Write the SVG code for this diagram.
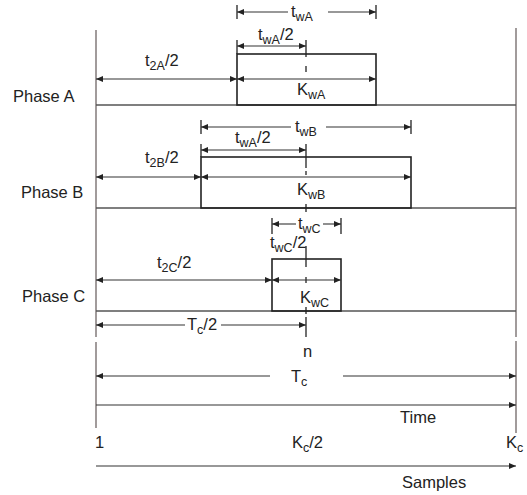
<svg xmlns="http://www.w3.org/2000/svg" width="527" height="495" viewBox="0 0 527 495">
<defs>
<marker id="ah" markerUnits="userSpaceOnUse" markerWidth="8" markerHeight="6" refX="7" refY="3" orient="auto-start-reverse"><path d="M0,0 L7,3 L0,6 z" fill="#222"/></marker>
<style>
text{font-family:"Liberation Sans",Arial,sans-serif;font-size:16.5px;fill:#222}
.sub{font-size:12.5px}
.ax{stroke:#8a8282;stroke-width:1.6;fill:none}
.base{stroke:#555;stroke-width:1.4;fill:none}
.dim{stroke:#333;stroke-width:1.1;fill:none}
.a2{marker-start:url(#ah);marker-end:url(#ah)}
.ae{marker-end:url(#ah)}
.as{marker-start:url(#ah)}
.tk{stroke:#222;stroke-width:1.3}
.box{fill:none;stroke:#222;stroke-width:1.6}
</style>
</defs>
<rect width="527" height="495" fill="#fff"/>
<g id="axes">
<line class="ax" x1="96" y1="30" x2="96" y2="337"/>
<line class="ax" x1="96" y1="342" x2="96" y2="428"/>
<line class="ax" x1="516" y1="28" x2="516" y2="337"/>
<line class="ax" x1="516" y1="341" x2="516" y2="433"/>
<line class="base" x1="96" y1="105" x2="516" y2="105"/>
<line class="base" x1="96" y1="208" x2="516" y2="208"/>
<line class="base" x1="96" y1="311" x2="516" y2="311"/>
</g>
<g id="phaseA">
<rect class="box" x="237" y="54" width="139" height="51"/>
<text x="13" y="102">Phase A</text>
<text x="291" y="17">t<tspan class="sub" dy="4">wA</tspan></text>
<text x="258" y="40">t<tspan class="sub" dy="4">wA</tspan><tspan dy="-4">/2</tspan></text>
<text x="145" y="66">t<tspan class="sub" dy="4">2A</tspan><tspan dy="-4">/2</tspan></text>
<text x="297" y="95">K<tspan class="sub" dy="4">wA</tspan></text>
</g>
<g id="phaseB">
<rect class="box" x="201" y="157" width="210" height="51"/>
<text x="21" y="198">Phase B</text>
<text x="295" y="132">t<tspan class="sub" dy="4">wB</tspan></text>
<text x="235" y="143">t<tspan class="sub" dy="4">wA</tspan><tspan dy="-4">/2</tspan></text>
<text x="145" y="163">t<tspan class="sub" dy="4">2B</tspan><tspan dy="-4">/2</tspan></text>
<text x="297" y="195">K<tspan class="sub" dy="4">wB</tspan></text>
</g>
<g id="phaseC">
<rect class="box" x="272" y="259" width="69" height="52"/>
<text x="22" y="302">Phase C</text>
<text x="298" y="229">t<tspan class="sub" dy="4">wC</tspan></text>
<text x="270" y="248">t<tspan class="sub" dy="4">wC</tspan><tspan dy="-4">/2</tspan></text>
<text x="157" y="268">t<tspan class="sub" dy="4">2C</tspan><tspan dy="-4">/2</tspan></text>
<text x="300" y="303">K<tspan class="sub" dy="4">wC</tspan></text>
</g>
<g id="bottom">
<text x="187" y="330">T<tspan class="sub" dy="4">c</tspan><tspan dy="-4">/2</tspan></text>
<text x="303" y="357">n</text>
<text x="291" y="382">T<tspan class="sub" dy="4">c</tspan></text>
<text x="400" y="423">Time</text>
<text x="95" y="448">1</text>
<text x="292" y="448">K<tspan class="sub" dy="4">c</tspan><tspan dy="-4">/2</tspan></text>
<text x="506" y="448">K<tspan class="sub" dy="4">c</tspan></text>
<text x="402" y="488">Samples</text>
</g>
<g id="connectors">
<line class="tk" x1="237" y1="5" x2="237" y2="19"/>
<line class="tk" x1="376" y1="5" x2="376" y2="19"/>
<line class="dim as" x1="237" y1="12" x2="288" y2="12"/>
<line class="dim ae" x1="328" y1="12" x2="376" y2="12"/>
<line class="tk" x1="237" y1="40" x2="237" y2="54"/>
<line class="tk" x1="306" y1="40" x2="306" y2="57"/>
<line class="dim a2" x1="237" y1="46" x2="306" y2="46"/>
<line class="tk" x1="306" y1="66" x2="306" y2="72"/>
<line class="dim a2" x1="96" y1="79" x2="237" y2="79"/>
<line class="dim a2" x1="237" y1="79" x2="376" y2="79"/>
<line class="tk" x1="201" y1="120" x2="201" y2="134"/>
<line class="tk" x1="411" y1="120" x2="411" y2="134"/>
<line class="dim as" x1="201" y1="127" x2="291" y2="127"/>
<line class="dim ae" x1="326" y1="127" x2="411" y2="127"/>
<line class="tk" x1="201" y1="144" x2="201" y2="157"/>
<line class="tk" x1="306" y1="144" x2="306" y2="168"/>
<line class="dim a2" x1="201" y1="150" x2="306" y2="150"/>
<line class="tk" x1="306" y1="171" x2="306" y2="175"/>
<line class="dim a2" x1="96" y1="177" x2="201" y2="177"/>
<line class="dim a2" x1="201" y1="177" x2="411" y2="177"/>
<line class="tk" x1="306" y1="204" x2="306" y2="212"/>
<line class="tk" x1="272" y1="218" x2="272" y2="234"/>
<line class="tk" x1="341" y1="218" x2="341" y2="234"/>
<line class="dim as" x1="272" y1="224" x2="296" y2="224"/>
<line class="dim ae" x1="323" y1="224" x2="341" y2="224"/>
<line class="tk" x1="306" y1="246" x2="306" y2="267"/>
<line class="tk" x1="306" y1="277" x2="306" y2="283"/>
<line class="dim a2" x1="96" y1="280" x2="272" y2="280"/>
<line class="dim a2" x1="272" y1="280" x2="341" y2="280"/>
<line class="tk" x1="306" y1="307" x2="306" y2="314"/>
<line class="tk" x1="306" y1="317" x2="306" y2="337"/>
<line class="dim as" x1="96" y1="325" x2="185" y2="325"/>
<line class="dim ae" x1="221" y1="325" x2="306" y2="325"/>
<line class="dim as" x1="96" y1="376" x2="270" y2="376"/>
<line class="dim ae" x1="343" y1="376" x2="516" y2="376"/>
<line class="dim ae" x1="96" y1="405" x2="516" y2="405"/>
<line class="dim ae" x1="96" y1="466" x2="516" y2="466"/>
</g>
</svg>
